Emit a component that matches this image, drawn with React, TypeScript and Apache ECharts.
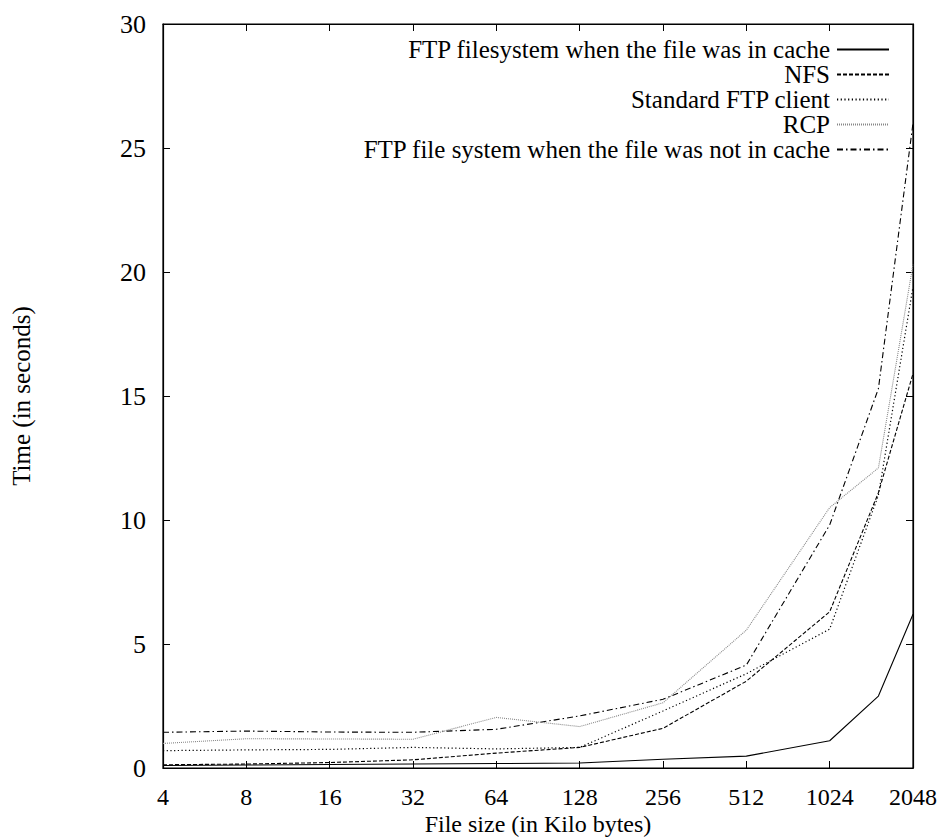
import React, { useEffect, useRef } from "react";
import * as echarts from "echarts";

const fileSizes = [4, 8, 16, 32, 64, 128, 256, 512, 1024, 1536, 2048];
const ftpCache = [0.1, 0.12, 0.14, 0.16, 0.18, 0.2, 0.35, 0.48, 1.1, 2.9, 6.2];
const nfs = [0.13, 0.16, 0.22, 0.33, 0.6, 0.83, 1.6, 3.5, 6.3, 11.1, 15.9];
const stdFtp = [0.7, 0.73, 0.75, 0.83, 0.77, 0.83, 2.3, 3.8, 5.6, 11.0, 19.4];
const rcp = [0.99, 1.18, 1.17, 1.16, 2.04, 1.67, 2.63, 5.56, 10.5, 12.1, 20.3];
const ftpNoCache = [1.44, 1.49, 1.45, 1.44, 1.56, 2.1, 2.77, 4.15, 9.8, 15.3, 26.0];

const seriesNames = [
  "FTP filesystem when the file was in cache",
  "NFS",
  "Standard FTP client",
  "RCP",
  "FTP file system when the file was not in cache",
];

const FONT = "Liberation Serif, Times New Roman, DejaVu Serif, serif";

export default function App() {
  const ref = useRef<HTMLDivElement>(null);
  useEffect(() => {
    if (!ref.current) return;
    const chart = echarts.init(ref.current, null, { renderer: "svg" });
    const pair = (vals: number[]) => fileSizes.map((s, i) => [s, vals[i]]);
    const styles: any[] = [
      { color: "#000", width: 1.1, type: "solid" },
      { color: "#000", width: 1.1, type: [4, 2] },
      { color: "#000", width: 1.2, type: [1.2, 2.5] },
      { color: "#888", width: 1.1, type: [1, 1] },
      { color: "#000", width: 1.1, type: [6, 3, 1.5, 3] },
    ];
    const data = [ftpCache, nfs, stdFtp, rcp, ftpNoCache];
    const tickFmt = (v: number) => String(Math.round(v));
    chart.setOption({
      animation: false,
      backgroundColor: "#fff",
      textStyle: { fontFamily: FONT, color: "#000" },
      grid: {
        left: 163,
        right: 31,
        top: 24,
        bottom: 69,
        outerBoundsMode: "none",
        containLabel: false,
        show: true,
        borderColor: "#000",
        borderWidth: 1.2,
        backgroundColor: "transparent",
      },
      legend: {
        orient: "vertical",
        right: 54,
        top: 37,
        align: "right",
        padding: 0,
        itemGap: 0,
        itemWidth: 52,
        itemHeight: 12,
        data: seriesNames,
        itemStyle: { opacity: 0 },
        textStyle: {
          fontFamily: FONT,
          fontSize: 25,
          color: "#000",
          lineHeight: 25,
          padding: [0, 2, 0, 0],
        },
      },
      xAxis: [
        {
          type: "log",
          logBase: 2,
          min: 4,
          max: 2048,
          splitNumber: 9,
          name: "File size (in Kilo bytes)",
          nameLocation: "middle",
          nameGap: 44,
          nameMoveOverlap: false,
          nameTextStyle: { fontFamily: FONT, fontSize: 24, color: "#000" },
          axisLine: { show: true, onZero: false, lineStyle: { color: "#000", width: 1.2 } },
          axisTick: { show: true, inside: true, length: 7, lineStyle: { color: "#000" } },
          axisLabel: {
            fontFamily: FONT,
            fontSize: 24,
            color: "#000",
            margin: 17,
            formatter: tickFmt,
          },
          splitLine: { show: false },
          minorTick: { show: false },
        },
        {
          type: "log",
          logBase: 2,
          min: 4,
          max: 2048,
          splitNumber: 9,
          position: "top",
          axisLine: { show: true, onZero: false, lineStyle: { color: "#000", width: 1.2 } },
          axisTick: { show: true, inside: true, length: 7, lineStyle: { color: "#000" } },
          axisLabel: { show: false },
          splitLine: { show: false },
        },
      ],
      yAxis: [
        {
          type: "value",
          min: 0,
          max: 30,
          interval: 5,
          name: "Time (in seconds)",
          nameLocation: "middle",
          nameGap: 129,
          nameRotate: 90,
          nameMoveOverlap: false,
          nameTextStyle: { fontFamily: FONT, fontSize: 25, color: "#000" },
          axisLine: { show: true, lineStyle: { color: "#000", width: 1.2 } },
          axisTick: { show: true, inside: true, length: 7, lineStyle: { color: "#000" } },
          axisLabel: { fontFamily: FONT, fontSize: 26, color: "#000", margin: 17 },
          splitLine: { show: false },
        },
        {
          type: "value",
          min: 0,
          max: 30,
          interval: 5,
          position: "right",
          axisLine: { show: true, lineStyle: { color: "#000", width: 1.2 } },
          axisTick: { show: true, inside: true, length: 7, lineStyle: { color: "#000" } },
          axisLabel: { show: false },
          splitLine: { show: false },
        },
      ],
      series: seriesNames.map((name, i) => ({
        name,
        type: "line",
        xAxisIndex: 0,
        yAxisIndex: 0,
        data: pair(data[i]),
        symbol: "none",
        showSymbol: false,
        lineStyle: styles[i],
        itemStyle: { color: styles[i].color },
        z: 10 - i,
      })),
    });
    return () => chart.dispose();
  }, []);
  return (
    <>
      <style>{`.chart-root svg text { font-family: "Liberation Serif", "Times New Roman", "DejaVu Serif", serif !important; }`}</style>
      <div
        ref={ref}
        className="chart-root"
        style={{ width: 944, height: 837, position: "absolute", left: 0, top: 0 }}
      />
    </>
  );
}
